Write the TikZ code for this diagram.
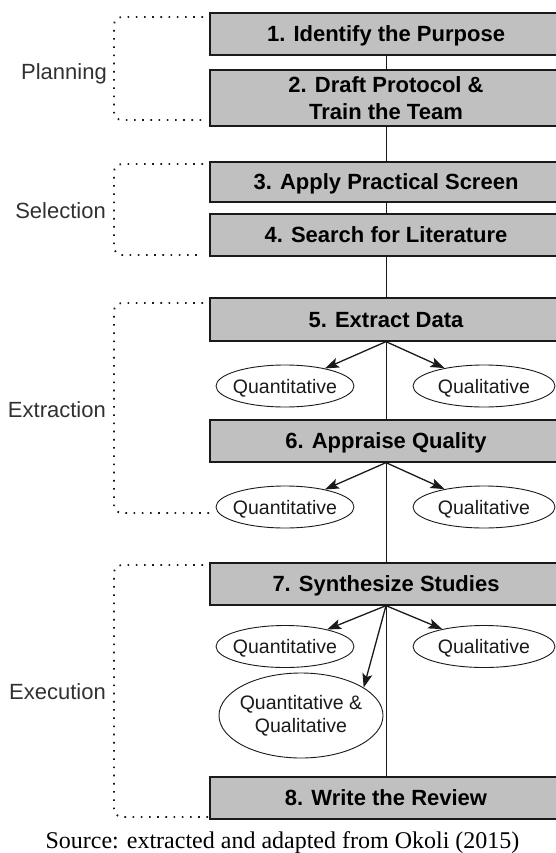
\documentclass[tikz,border=0pt]{standalone}
\usepackage{fontspec}
\setmainfont{Liberation Serif}
\setsansfont{Liberation Sans}
\usetikzlibrary{arrows.meta,shapes.geometric}
\definecolor{boxgray}{HTML}{C0C0C0}
\definecolor{ink}{HTML}{1A1A1A}
\begin{document}
\begin{tikzpicture}[x=1pt,y=-1pt,
  stepbox/.style={draw=ink, line width=1.3pt, fill=boxgray, minimum width=352pt,
    text=black, font=\sffamily\bfseries\fontsize{22}{27.5}\selectfont, align=center, inner sep=0pt},
  oneline/.style={text height=15.5pt, text depth=0pt},
  oval/.style={ellipse, draw=ink, line width=0.9pt, fill=white, inner sep=0pt},
  otext/.style={font=\sffamily\fontsize{19.5}{23.3}\selectfont, align=center, text=ink, inner sep=0pt},
  phase/.style={anchor=base east, font=\sffamily\fontsize{22}{26}\selectfont, text=ink!90, inner sep=0pt},
  bracket/.style={draw=ink, line width=1.8pt, dash pattern=on 1.6pt off 6.6pt, rounded corners=8pt},
  link/.style={draw=ink, line width=1pt},
  arr/.style={draw=ink, line width=1.3pt, -{Stealth[length=14pt,width=10pt,inset=3pt]}}
]
\useasboundingbox (0,0) rectangle (556,853);

% process boxes
\node[stepbox, oneline, minimum height=42pt] (b1) at (386,34) {1. Identify the Purpose};
\node[stepbox, minimum height=56pt] (b2) at (386,98) {2. Draft Protocol \&\\Train the Team};
\node[stepbox, oneline, minimum height=40pt] (b3) at (386,182) {3. Apply Practical Screen};
\node[stepbox, oneline, minimum height=42pt] (b4) at (386,235) {4. Search for Literature};
\node[stepbox, oneline, minimum height=43pt] (b5) at (386,319.5) {5. Extract Data};
\node[stepbox, oneline, minimum height=42pt] (b6) at (386,441) {6. Appraise Quality};
\node[stepbox, oneline, minimum height=42pt] (b7) at (386,584) {7. Synthesize Studies};
\node[stepbox, oneline, minimum height=42pt] (b8) at (386,798) {8. Write the Review};

% central spine
\draw[link] (b1) -- (b2);
\draw[link] (b2) -- (b3);
\draw[link] (b3) -- (b4);
\draw[link] (b4) -- (b5);
\draw[link] (b5) -- (b6);
\draw[link] (b6) -- (b7);
\draw[link] (b7) -- (b8);

% ellipses
\node[oval, minimum width=138pt, minimum height=42pt, label={[otext, text height=14pt, text depth=0pt]center:Quantitative}] (e5a) at (285,386) {};
\node[oval, minimum width=142pt, minimum height=42pt, label={[otext, text height=14pt, text depth=0pt]center:Qualitative}] (e5b) at (484,386) {};
\node[oval, minimum width=138pt, minimum height=42pt, label={[otext, text height=14pt, text depth=0pt]center:Quantitative}] (e6a) at (285,507) {};
\node[oval, minimum width=142pt, minimum height=42pt, label={[otext, text height=14pt, text depth=0pt]center:Qualitative}] (e6b) at (484,507) {};
\node[oval, minimum width=138pt, minimum height=42pt, label={[otext, text height=14pt, text depth=0pt]center:Quantitative}] (e7a) at (285,646.5) {};
\node[oval, minimum width=142pt, minimum height=42pt, label={[otext, text height=14pt, text depth=0pt]center:Qualitative}] (e7b) at (484,646.5) {};
\node[oval, minimum width=164pt, minimum height=85pt, label={[otext]center:Quantitative \&\\Qualitative}] (e7c) at (301,715.5) {};

% arrows
\draw[arr] (b5.south) -- (e5a);
\draw[arr] (b5.south) -- (e5b);
\draw[arr] (b6.south) -- (e6a);
\draw[arr] (b6.south) -- (e6b);
\draw[arr] (b7.south) -- (e7a);
\draw[arr] (b7.south) -- (e7b);
\draw[arr] (b7.south) -- (e7c.24);

% phase brackets
\draw[bracket] (203,17) -- (114,17) -- (114,120) -- (203,120);
\draw[bracket] (203,164) -- (114,164) -- (114,255) -- (203,255);
\draw[bracket] (203,303) -- (114,303) -- (114,513) -- (214,513);
\draw[bracket] (203,565) -- (114,565) -- (114,817) -- (209,817);

% phase labels
\node[phase] (lp) at (107,80) {Planning};
\node[phase] (ls) at (106,218.3) {Selection};
\node[phase] (le) at (106,417.3) {Extraction};
\node[phase] (lx) at (106,699.3) {Execution};

% source
\node[anchor=base, font=\fontsize{24}{28}\selectfont, text=black, inner sep=0pt] (src) at (282.5,848.5) {Source: extracted and adapted from Okoli (2015)};
\end{tikzpicture}
\end{document}
